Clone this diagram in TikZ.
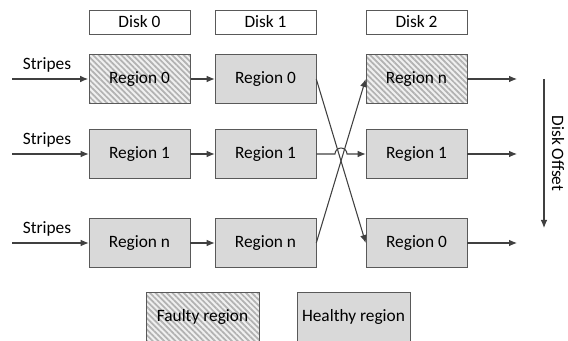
\documentclass[tikz,border=0pt]{standalone}
\usepackage{fontspec}
\setmainfont{Carlito}
\usetikzlibrary{arrows.meta, patterns.meta, positioning}

\begin{document}
\begin{tikzpicture}[x=0.75pt, y=-0.75pt,
        font=\fontsize{13}{15}\selectfont,
        disk/.style={draw=black!65, fill=white, minimum width=75.75pt, minimum height=18pt, inner sep=0pt},
        healthy/.style={draw=black!65, fill=gray!30, minimum width=75.75pt, minimum height=36.75pt, inner sep=0pt},
        faulty/.style={draw=black!65, preaction={fill=gray!12},
                pattern={Lines[angle=-45, distance=3pt, line width=1.3pt]}, pattern color=gray!60,
                minimum width=75.75pt, minimum height=36.75pt, inner sep=0pt},
        link/.style={draw=black!75, line width=0.8pt, -{Latex[length=6pt,width=5pt]}}]
        \useasboundingbox (0,0) rectangle (568,341);

        % Disk headers
        \node[disk] (disk0) at (139.5,22) {Disk 0};
        \node[disk] (disk1) at (265.5,22) {Disk 1};
        \node[disk] (disk2) at (416.5,22) {Disk 2};

        % Regions on each disk
        \node[faulty]  (d0r0) at (139.5,79) {Region 0};
        \node[healthy] (d0r1) at (139.5,154) {Region 1};
        \node[healthy] (d0r2) at (139.5,243) {Region n};

        \node[healthy] (d1r0) at (265.5,79) {Region 0};
        \node[healthy] (d1r1) at (265.5,154) {Region 1};
        \node[healthy] (d1r2) at (265.5,243) {Region n};

        \node[faulty]  (d2r0) at (416.5,79) {Region n};
        \node[healthy] (d2r1) at (416.5,154) {Region 1};
        \node[healthy] (d2r2) at (416.5,243) {Region 0};

        % Incoming stripes
        \foreach \r/\y in {0/79, 1/154, 2/243} {
                \coordinate (in\r) at (12,\y);
                \node (stripes\r) at (47,\y-14) {Stripes};
                \draw[link] (in\r) -- (d0r\r);
                \draw[link] (d0r\r) -- (d1r\r);
                \coordinate (out\r) at (517,\y);
                \draw[link] (d2r\r) -- (out\r);
            }

        % Remapping between disk 1 and disk 2
        \draw[link] (d1r0.east) -- (d2r2.west);
        \draw[link] (d1r2.east) -- (d2r0.west);
        \draw[link] (d1r1.east) -- (335,154) arc (180:360:6) -- (d2r1.west);

        % Disk offset
        \coordinate (offtop) at (544,79);
        \coordinate (offbot) at (544,228);
        \draw[link] (offtop) -- (offbot);
        \node[rotate=-90] (offset) at (558,153.5) {Disk Offset};

        % Legend
        \node[faulty, minimum width=84.75pt] (lfaulty) at (202.5,317) {Faulty region};
        \node[healthy, minimum width=84.75pt] (lhealthy) at (353.5,317) {Healthy region};
    \end{tikzpicture}
\end{document}
